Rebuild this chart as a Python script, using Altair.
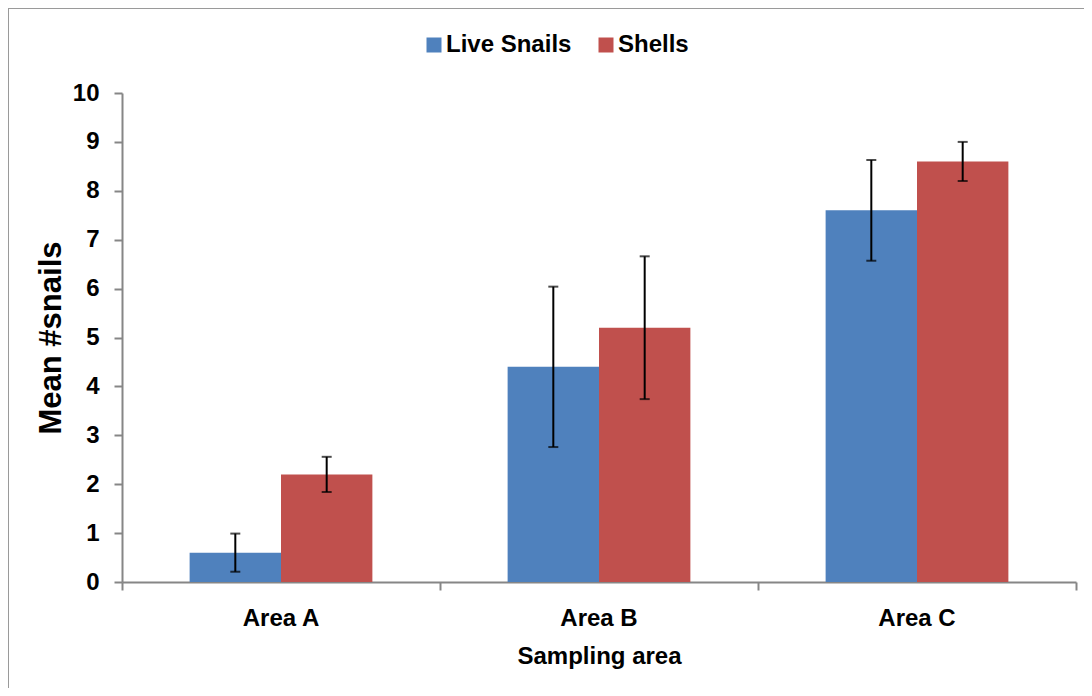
import altair as alt
import pandas as pd

areas = ["Area A", "Area B", "Area C"]
series = ["Live Snails", "Shells"]
live_mean = [0.6, 4.4, 7.6]
live_err = [0.39, 1.64, 1.03]
shells_mean = [2.2, 5.2, 8.6]
shells_err = [0.36, 1.46, 0.40]
colors = ["#4F81BD", "#C0504D"]
y_ticks = list(range(0, 11))

rows = []
for i, a in enumerate(areas):
    rows.append({"area": a, "series": series[0], "mean": live_mean[i],
                 "lo": live_mean[i] - live_err[i], "hi": live_mean[i] + live_err[i]})
    rows.append({"area": a, "series": series[1], "mean": shells_mean[i],
                 "lo": shells_mean[i] - shells_err[i], "hi": shells_mean[i] + shells_err[i]})
df = pd.DataFrame(rows)

FONT = "Liberation Sans"
GRAY = "#868686"

x_enc = alt.X("area:N", sort=areas,
              scale=alt.Scale(paddingInner=0, paddingOuter=0),
              axis=alt.Axis(title="Sampling area", labelAngle=0,
                            labelFont=FONT, labelFontSize=24, labelFontWeight="bold",
                            labelColor="black", labelBaseline="alphabetic", labelPadding=35,
                            titleFont=FONT, titleFontSize=24, titleFontWeight="bold",
                            titleColor="black", titleBaseline="alphabetic",
                            titleX=477, titleY=81,
                            domainColor=GRAY, domainWidth=2,
                            tickColor=GRAY, tickWidth=2, tickSize=8,
                            bandPosition=1, tickExtra=True))
xo_enc = alt.XOffset("series:N", sort=series,
                     scale=alt.Scale(paddingInner=0, paddingOuter=0.74))

base = alt.Chart(df)

bars = base.mark_bar().encode(
    x=x_enc,
    xOffset=xo_enc,
    y=alt.Y("mean:Q",
            scale=alt.Scale(domain=[0, 10], nice=False),
            axis=alt.Axis(title="Mean #snails", values=y_ticks, grid=False,
                          labelFont=FONT, labelFontSize=24, labelFontWeight="bold",
                          labelColor="black", labelPadding=15,
                          titleFont=FONT, titleFontSize=31, titleFontWeight="bold",
                          titleColor="black", titleBaseline="middle",
                          titleX=-71, titleY=244.5,
                          domainColor=GRAY, domainWidth=2,
                          tickColor=GRAY, tickWidth=2, tickSize=8)),
    color=alt.Color("series:N", sort=series,
                    scale=alt.Scale(domain=series, range=colors),
                    legend=alt.Legend(orient="none", legendX=300, legendY=-60,
                                      direction="horizontal", title=None,
                                      symbolType="square", symbolSize=225,
                                      symbolStrokeWidth=0, symbolOpacity=1,
                                      labelFont=FONT, labelFontSize=24,
                                      labelFontWeight="bold", labelColor="black",
                                      labelOffset=0, columnPadding=22, padding=0)),
)

err = base.mark_rule(color="black", strokeWidth=2).encode(
    x=alt.X("area:N", sort=areas), xOffset=xo_enc,
    y=alt.Y("lo:Q"), y2="hi:Q")
cap_lo = base.mark_tick(color="black", thickness=2, size=10).encode(
    x=alt.X("area:N", sort=areas), xOffset=xo_enc, y=alt.Y("lo:Q"))
cap_hi = base.mark_tick(color="black", thickness=2, size=10).encode(
    x=alt.X("area:N", sort=areas), xOffset=xo_enc, y=alt.Y("hi:Q"))

frame_df = pd.DataFrame({"k": [0]})
frame_top = alt.Chart(frame_df).mark_rule(color="#9a9a9a", strokeWidth=2).encode(
    x=alt.value(-114), x2=alt.value(962), y=alt.value(-85))
frame_left = alt.Chart(frame_df).mark_rule(color="#9a9a9a", strokeWidth=2).encode(
    x=alt.value(-114), y=alt.value(-85), y2=alt.value(595))

chart = alt.layer(bars, err, cap_lo, cap_hi, frame_top, frame_left).properties(
    width=954, height=489,
    padding={"left": 114, "top": 85, "right": 8, "bottom": 106},
    autosize=alt.AutoSizeParams(type="none"),
).configure_view(stroke=None)

chart.save("out.html", embed_options={"renderer": "svg", "actions": False})
